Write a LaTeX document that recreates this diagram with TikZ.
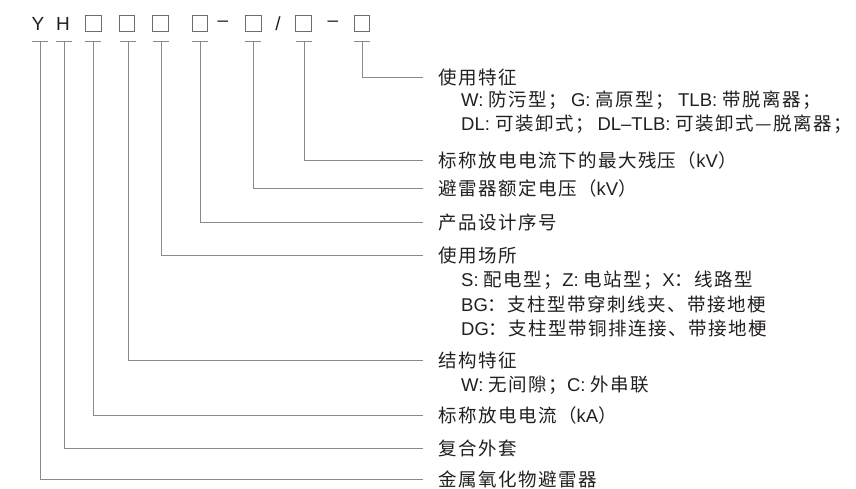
\documentclass[tikz,border=0pt]{standalone}
\usepackage{fontspec}
\setmainfont{Liberation Sans}
\newfontfamily\cjfont{Noto Sans CJK SC}[LetterSpace=8]
\newcommand{\cj}[1]{{\cjfont #1}}
\begin{document}
\begin{tikzpicture}[x=1pt,y=-1pt,
  txt/.style={inner sep=0pt,anchor=west,text=ink,font=\fontsize{18.5}{20}\selectfont},
  toptxt/.style={inner sep=0pt,text=ink,font=\fontsize{19}{20}\selectfont},
  sq/.style={draw=boxc,line width=1.1pt,minimum size=15.5pt,inner sep=0pt},
  lead/.style={draw=linec,line width=0.9pt},
  tick/.style={draw=linec,line width=0.9pt}]
\definecolor{ink}{RGB}{35,31,32}
\definecolor{linec}{RGB}{140,136,138}
\definecolor{boxc}{RGB}{110,108,110}
\useasboundingbox (0,0) rectangle (856,489);
% top code row
\node[toptxt] (cY) at (38,24) {Y};
\node[toptxt] (cH) at (63,24) {H};
\node[sq] (b1) at (93.5,23.5) {};
\node[sq] (b2) at (127,23.5) {};
\node[sq] (b3) at (160.5,23.5) {};
\node[sq] (b4) at (200,23.5) {};
\node[toptxt] (d1) at (223,24) {–};
\node[sq] (b5) at (253.5,23.5) {};
\node[toptxt] (sl) at (278,24) {/};
\node[sq] (b6) at (303.5,23.5) {};
\node[toptxt] (d2) at (333,24) {–};
\node[sq] (b7) at (362,23.5) {};
% tick coordinates
\foreach \n/\x in {tY/40,tH/64,t1/93,t2/128,t3/161,t4/200,t5/253,t6/304,t7/362}{
  \coordinate (\n) at (\x,41);
  \draw[tick] (\x-8,41) -- (\x+8,41);
}
% labels
\node[txt] (l7) at (438,77) {\cj{使用特征}};
\node[txt] (l7a) at (461,100) {W: \cj{防污型；}\hspace{4pt}G: \cj{高原型；}\hspace{4pt}TLB: \cj{带脱离器；}};
\node[txt] (l7b) at (461,124) {DL: \cj{可装卸式；}\hspace{4pt}DL–TLB: \cj{可装卸式—脱离器；}};
\node[txt] (l6) at (438,160) {\cj{标称放电电流下的最大残压（}kV\cj{）}};
\node[txt] (l5) at (438,188) {\cj{避雷器额定电压（}kV\cj{）}};
\node[txt] (l4) at (438,222) {\cj{产品设计序号}};
\node[txt] (l3) at (438,255) {\cj{使用场所}};
\node[txt] (l3a) at (461,280) {S: \cj{配电型；}Z: \cj{电站型；}X\cj{：线路型}};
\node[txt] (l3b) at (461,304) {BG\cj{：支柱型带穿刺线夹、带接地梗}};
\node[txt] (l3c) at (461,328) {DG\cj{：支柱型带铜排连接、带接地梗}};
\node[txt] (l2) at (438,360) {\cj{结构特征}};
\node[txt] (l2a) at (461,385) {W: \cj{无间隙；}C: \cj{外串联}};
\node[txt] (l1) at (438,415) {\cj{标称放电电流（}kA\cj{）}};
\node[txt] (lH) at (438,448) {\cj{复合外套}};
\node[txt] (lY) at (438,479) {\cj{金属氧化物避雷器}};
% leaders
\foreach \t/\l in {t7/l7,t6/l6,t5/l5,t4/l4,t3/l3,t2/l2,t1/l1,tH/lH,tY/lY}{
  \draw[lead] (\t) |- ([xshift=-15pt]\l.west);
}
\end{tikzpicture}
\end{document}
